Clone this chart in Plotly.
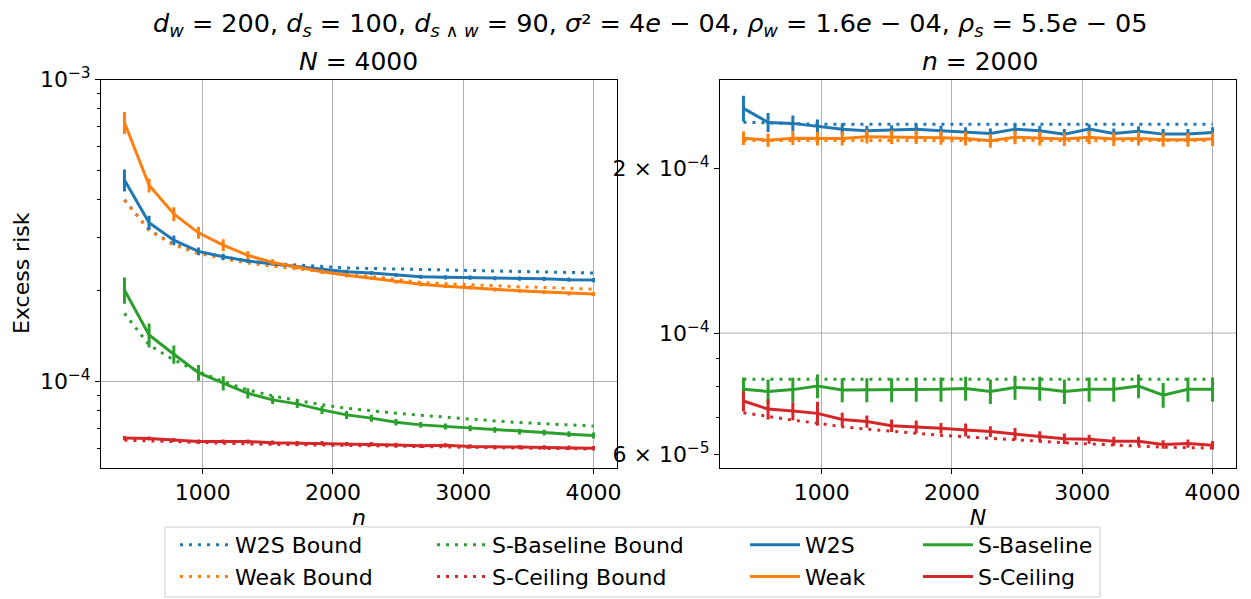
import plotly.graph_objects as go

SCALE = 1e-4  # values below are in units of 1e-4

x_vals = [400, 589, 779, 968, 1158, 1347, 1537, 1726, 1916, 2105,
          2295, 2484, 2674, 2863, 3053, 3242, 3432, 3621, 3811, 4000]

# ---------- Left panel (N = 4000, varying n) ----------
w2s_bound_L = [4.00, 3.18, 2.85, 2.69, 2.59, 2.51, 2.46, 2.43, 2.40, 2.38,
               2.37, 2.36, 2.35, 2.34, 2.335, 2.32, 2.317, 2.31, 2.30, 2.29]
weak_bound_L = [3.99, 3.17, 2.83, 2.66, 2.55, 2.47, 2.41, 2.36, 2.31, 2.27,
                2.23, 2.18, 2.13, 2.11, 2.09, 2.07, 2.06, 2.05, 2.04, 2.025]
sbase_bound_L = [1.683, 1.322, 1.18, 1.08, 1.00, 0.939, 0.897, 0.865, 0.838, 0.816,
                 0.80, 0.786, 0.774, 0.762, 0.751, 0.741, 0.732, 0.724, 0.719, 0.713]
sceil_bound_L = [0.640, 0.636, 0.632, 0.628, 0.625, 0.622, 0.620, 0.618, 0.616, 0.614,
                 0.612, 0.610, 0.608, 0.606, 0.605, 0.603, 0.602, 0.601, 0.600, 0.598]

w2s_L = [4.65, 3.36, 2.94, 2.70, 2.59, 2.51, 2.45, 2.40, 2.355, 2.31,
         2.29, 2.255, 2.225, 2.215, 2.21, 2.20, 2.195, 2.19, 2.175, 2.17]
w2s_L_err = [0.39, 0.18, 0.11, 0.08, 0.06, 0.04, 0.035, 0.035, 0.035, 0.035,
             0.035, 0.035, 0.035, 0.035, 0.035, 0.035, 0.035, 0.035, 0.035, 0.035]
weak_L = [7.21, 4.47, 3.59, 3.11, 2.83, 2.62, 2.48, 2.39, 2.31, 2.25,
          2.20, 2.14, 2.10, 2.07, 2.05, 2.02, 2.00, 1.98, 1.96, 1.95]
weak_L_err = [0.60, 0.24, 0.19, 0.14, 0.13, 0.08, 0.06, 0.04, 0.04, 0.04,
              0.03, 0.03, 0.03, 0.03, 0.03, 0.03, 0.03, 0.03, 0.03, 0.03]
sbase_L = [2.01, 1.427, 1.232, 1.071, 0.988, 0.915, 0.870, 0.844, 0.806, 0.776,
           0.757, 0.734, 0.719, 0.710, 0.7015, 0.692, 0.6835, 0.678, 0.670, 0.663]
sbase_L_err = [0.20, 0.13, 0.085, 0.065, 0.053, 0.035, 0.027, 0.026, 0.025, 0.024,
               0.02, 0.018, 0.016, 0.016, 0.016, 0.015, 0.015, 0.015, 0.015, 0.015]
sceil_L = [0.650, 0.648, 0.641, 0.633, 0.633, 0.633, 0.628, 0.626, 0.626, 0.621,
           0.621, 0.617, 0.613, 0.615, 0.610, 0.607, 0.607, 0.605, 0.604, 0.602]
sceil_L_err = [0.01, 0.01, 0.01, 0.01, 0.01, 0.01, 0.01, 0.01, 0.01, 0.01,
               0.01, 0.01, 0.01, 0.01, 0.01, 0.01, 0.01, 0.01, 0.01, 0.01]

# ---------- Right panel (n = 2000, varying N) ----------
w2s_bound_R = [2.43, 2.42, 2.415, 2.41, 2.41, 2.41, 2.41, 2.41, 2.41, 2.41,
               2.41, 2.41, 2.41, 2.41, 2.41, 2.41, 2.41, 2.41, 2.41, 2.41]
weak_bound_R = [2.25, 2.25, 2.25, 2.25, 2.25, 2.25, 2.25, 2.25, 2.25, 2.25,
                2.25, 2.25, 2.25, 2.25, 2.25, 2.25, 2.25, 2.25, 2.25, 2.25]
sbase_bound_R = [0.823, 0.823, 0.823, 0.823, 0.823, 0.823, 0.823, 0.823, 0.823, 0.823,
                 0.823, 0.823, 0.823, 0.823, 0.823, 0.823, 0.823, 0.823, 0.823, 0.823]
sceil_bound_R = [0.715, 0.703, 0.693, 0.684, 0.674, 0.667, 0.6605, 0.6555, 0.650, 0.6456,
                 0.641, 0.637, 0.6325, 0.630, 0.627, 0.6235, 0.621, 0.6185, 0.617, 0.616]

w2s_R = [2.576, 2.428, 2.418, 2.388, 2.36, 2.344, 2.35, 2.36, 2.344, 2.328,
         2.317, 2.36, 2.344, 2.311, 2.36, 2.317, 2.338, 2.311, 2.311, 2.328]
w2s_R_err = [0.14, 0.097, 0.082, 0.07, 0.06, 0.05, 0.05, 0.05, 0.05, 0.05,
             0.05, 0.05, 0.05, 0.05, 0.05, 0.05, 0.05, 0.05, 0.05, 0.05]
weak_R = [2.272, 2.253, 2.272, 2.269, 2.269, 2.286, 2.283, 2.283, 2.276, 2.269,
          2.247, 2.28, 2.269, 2.263, 2.28, 2.263, 2.269, 2.256, 2.256, 2.263]
weak_R_err = [0.065, 0.065, 0.065, 0.065, 0.065, 0.065, 0.065, 0.065, 0.065, 0.065,
              0.065, 0.065, 0.065, 0.065, 0.065, 0.065, 0.065, 0.065, 0.065, 0.065]
sbase_R = [0.789, 0.782, 0.788, 0.800, 0.787, 0.787, 0.787, 0.789, 0.789, 0.792,
           0.782, 0.795, 0.792, 0.782, 0.789, 0.789, 0.800, 0.770, 0.789, 0.789]
sbase_R_err = [0.04, 0.04, 0.04, 0.04, 0.04, 0.04, 0.04, 0.04, 0.04, 0.04,
               0.04, 0.04, 0.04, 0.04, 0.04, 0.04, 0.04, 0.04, 0.04, 0.04]
sceil_R = [0.751, 0.726, 0.720, 0.713, 0.695, 0.689, 0.677, 0.674, 0.670, 0.665,
           0.6605, 0.6535, 0.6475, 0.641, 0.6395, 0.634, 0.634, 0.6255, 0.628, 0.6235]
sceil_R_err = [0.032, 0.031, 0.027, 0.036, 0.02, 0.018, 0.018, 0.018, 0.015, 0.018,
               0.015, 0.017, 0.014, 0.014, 0.012, 0.012, 0.012, 0.011, 0.011, 0.011]

C_BLUE, C_ORANGE, C_GREEN, C_RED = "#1f77b4", "#ff7f0e", "#2ca02c", "#d62728"
FONT = "DejaVu Sans"
FS = 22
W, H = 1251, 599
OFF = 8  # the page body adds an 8px margin; compensate so the picture lines up


def sc(a):
    return [v * SCALE for v in a]


fig = go.Figure()


def add_bound(y, name, color, xa, ya, legend, show):
    fig.add_trace(go.Scatter(
        x=x_vals, y=sc(y), mode="lines", name=name, legend=legend,
        showlegend=show, xaxis=xa, yaxis=ya,
        line=dict(color=color, width=3, dash="3px,6px")))


def add_err(y, err, name, color, xa, ya, legend, show):
    fig.add_trace(go.Scatter(
        x=x_vals, y=sc(y), mode="lines", name=name, legend=legend,
        showlegend=show, xaxis=xa, yaxis=ya,
        line=dict(color=color, width=3),
        error_y=dict(type="data", array=sc(err), visible=True,
                     thickness=3, width=0, color=color)))


for xa, ya, show, data in [
    ("x", "y", True, (w2s_bound_L, weak_bound_L, sbase_bound_L, sceil_bound_L,
                      w2s_L, w2s_L_err, weak_L, weak_L_err, sbase_L, sbase_L_err,
                      sceil_L, sceil_L_err)),
    ("x2", "y2", False, (w2s_bound_R, weak_bound_R, sbase_bound_R, sceil_bound_R,
                         w2s_R, w2s_R_err, weak_R, weak_R_err, sbase_R, sbase_R_err,
                         sceil_R, sceil_R_err)),
]:
    (wb, kb, sb, cb, w, we, k, ke, s, se, c, ce) = data
    add_bound(wb, "W2S Bound", C_BLUE, xa, ya, "legend", show)
    add_bound(kb, "Weak Bound", C_ORANGE, xa, ya, "legend", show)
    add_bound(sb, "S-Baseline Bound", C_GREEN, xa, ya, "legend2", show)
    add_bound(cb, "S-Ceiling Bound", C_RED, xa, ya, "legend2", show)
    add_err(w, we, "W2S", C_BLUE, xa, ya, "legend3", show)
    add_err(k, ke, "Weak", C_ORANGE, xa, ya, "legend3", show)
    add_err(s, se, "S-Baseline", C_GREEN, xa, ya, "legend4", show)
    add_err(c, ce, "S-Ceiling", C_RED, xa, ya, "legend4", show)


def px_x(p):
    return (p - OFF) / W


def px_y(p):
    return 1 - (p - OFF) / H


xcommon = dict(range=[220, 4180], tickvals=[1000, 2000, 3000, 4000],
               showgrid=True, gridcolor="#b0b0b0", gridwidth=1,
               showline=True, mirror=True, linecolor="black", linewidth=1,
               ticks="outside", ticklen=5, tickcolor="black",
               tickfont=dict(family=FONT, size=FS, color="black"),
               zeroline=False, title_standoff=0, automargin=False)

ycommon = dict(showline=True, mirror=True, linecolor="black", linewidth=1,
               ticks="outside", ticklen=5, tickcolor="black",
               tickfont=dict(family=FONT, size=FS, color="black"),
               zeroline=False, automargin=False, type="log")

fig.update_layout(
    width=W, height=H,
    paper_bgcolor="white", plot_bgcolor="white",
    margin=dict(l=0, r=0, t=0, b=0, autoexpand=False),
    font=dict(family=FONT, size=FS, color="black"),
    xaxis=dict(domain=[px_x(101), px_x(617)], anchor="y",
               title=dict(text="<i>n</i>", font=dict(family=FONT, size=FS)),
               **xcommon),
    xaxis2=dict(domain=[px_x(720), px_x(1236)], anchor="y2",
                title=dict(text="<i>N</i>", font=dict(family=FONT, size=FS)),
                **xcommon),
    yaxis=dict(domain=[px_y(467.5), px_y(79.5)], anchor="x",
               range=[-4.2844, -2.9995],
               tickvals=[1e-4, 1e-3],
               ticktext=["10<sup>−4</sup>", "10<sup>−3</sup>"],
               showgrid=True, gridcolor="#b0b0b0", gridwidth=1,
               minor=dict(tickvals=[6e-5, 7e-5, 8e-5, 9e-5, 2e-4, 3e-4, 4e-4,
                                    5e-4, 6e-4, 7e-4, 8e-4, 9e-4],
                          ticks="outside", ticklen=3, tickcolor="black",
                          showgrid=False),
               **ycommon),
    yaxis2=dict(domain=[px_y(467.5), px_y(79.5)], anchor="x2",
                range=[-4.2459, -3.5363],
                tickvals=[6e-5, 1e-4, 2e-4],
                ticktext=["6 × 10<sup>−5</sup>", "10<sup>−4</sup>",
                          "2 × 10<sup>−4</sup>"],
                showgrid=False,
                minor=dict(tickvals=[7e-5, 8e-5, 9e-5],
                           ticks="outside", ticklen=3, tickcolor="black",
                           showgrid=False),
                **ycommon),
)

legend_common = dict(bgcolor="rgba(0,0,0,0)", borderwidth=0,
                     font=dict(family=FONT, size=FS, color="black"),
                     xanchor="left", yanchor="top", orientation="v",
                     tracegroupgap=0, itemwidth=50)
fig.update_layout(
    legend=dict(x=px_x(175), y=px_y(524), **legend_common),
    legend2=dict(x=px_x(432), y=px_y(524), **legend_common),
    legend3=dict(x=px_x(745), y=px_y(524), **legend_common),
    legend4=dict(x=px_x(918), y=px_y(524), **legend_common),
)

# legend frame
fig.add_shape(type="rect", xref="paper", yref="paper",
              x0=px_x(165), x1=px_x(1100), y0=px_y(597), y1=px_y(527),
              line=dict(color="#cccccc", width=1), fillcolor="rgba(255,255,255,0.8)",
              layer="below")
# major gridline at 1e-4 on the right panel
fig.add_shape(type="line", xref="x2 domain", x0=0, x1=1, yref="y2",
              y0=1e-4, y1=1e-4, line=dict(color="#b0b0b0", width=1), layer="below")

title_text = ("<i>d</i><sub><i>w</i></sub> = 200, <i>d</i><sub><i>s</i></sub> = 100, "
              "<i>d</i><sub><i>s</i> ∧ <i>w</i></sub> = 90, <i>σ</i>² = 4<i>e</i> − 04, "
              "<i>ρ</i><sub><i>w</i></sub> = 1.6<i>e</i> − 04, <i>ρ</i><sub><i>s</i></sub> = 5.5<i>e</i> − 05")

fig.add_annotation(text=title_text, xref="paper", yref="paper",
                   x=px_x(650), y=px_y(24), xanchor="center", yanchor="middle",
                   showarrow=False, font=dict(family=FONT, size=25.5))
fig.add_annotation(text="<i>N</i> = 4000", xref="paper", yref="paper",
                   x=px_x(358), y=px_y(62), xanchor="center", yanchor="middle",
                   showarrow=False, font=dict(family=FONT, size=25))
fig.add_annotation(text="<i>n</i> = 2000", xref="paper", yref="paper",
                   x=px_x(980), y=px_y(62), xanchor="center", yanchor="middle",
                   showarrow=False, font=dict(family=FONT, size=25))
fig.add_annotation(text="Excess risk", xref="paper", yref="paper",
                   x=px_x(21), y=px_y(273), xanchor="center", yanchor="middle",
                   textangle=-90, showarrow=False, font=dict(family=FONT, size=FS))

fig.write_html("out.html")
